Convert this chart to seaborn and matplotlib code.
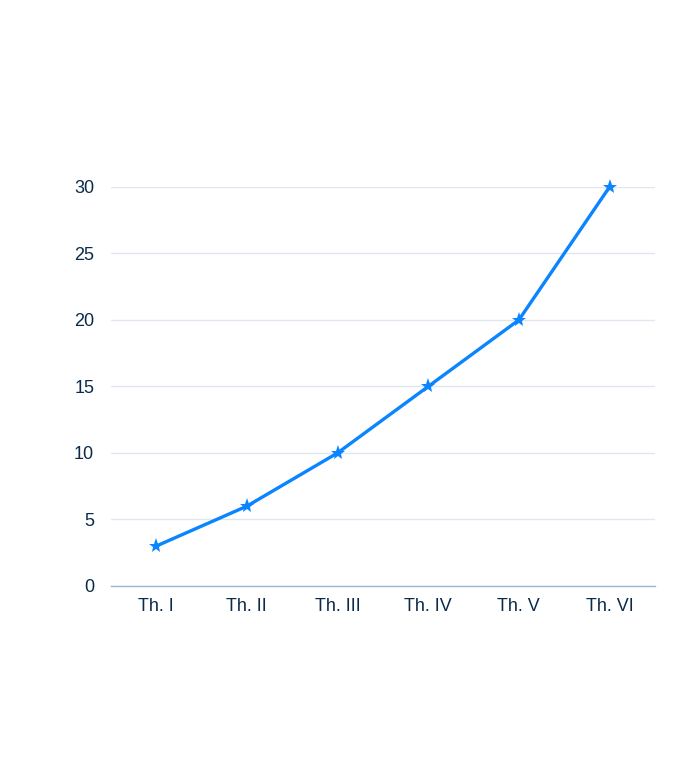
import matplotlib
matplotlib.use('Agg')
import matplotlib.pyplot as plt
import seaborn as sns
import pandas as pd

# données
categories = ['Th. I', 'Th. II', 'Th. III', 'Th. IV', 'Th. V', 'Th. VI']
valeurs = [3, 6, 10, 15, 20, 30]

df = pd.DataFrame({'cat': categories, 'val': valeurs})

sns.set_style('white')
plt.rcParams['font.family'] = ['Liberation Sans', 'DejaVu Sans']

fig = plt.figure(figsize=(6.8, 7.62), dpi=100)
ax = fig.add_axes([0.163, 0.231, 0.8, 0.5236])

sns.lineplot(data=df, x='cat', y='val', ax=ax, color='#0a84ff', linewidth=2.4,
             marker='*', markersize=11, markeredgewidth=0, clip_on=False, sort=False)

ax.set_xlim(-0.5, len(categories) - 0.5)
ax.set_ylim(0, 30)
ax.set_yticks([0, 5, 10, 15, 20, 25, 30])
ax.yaxis.grid(True, color='#e0e6f0', linewidth=1)
ax.set_axisbelow(True)
ax.set_xlabel('')
ax.set_ylabel('')

for s in ['top', 'right', 'left']:
    ax.spines[s].set_visible(False)
ax.spines['bottom'].set_color('#a0b4d0')
ax.spines['bottom'].set_linewidth(1)

ax.tick_params(axis='both', length=0, labelsize=13, colors='#0b2a4a')
ax.tick_params(axis='y', pad=12)
ax.tick_params(axis='x', pad=9)

fig.savefig('out.png', dpi=100)
